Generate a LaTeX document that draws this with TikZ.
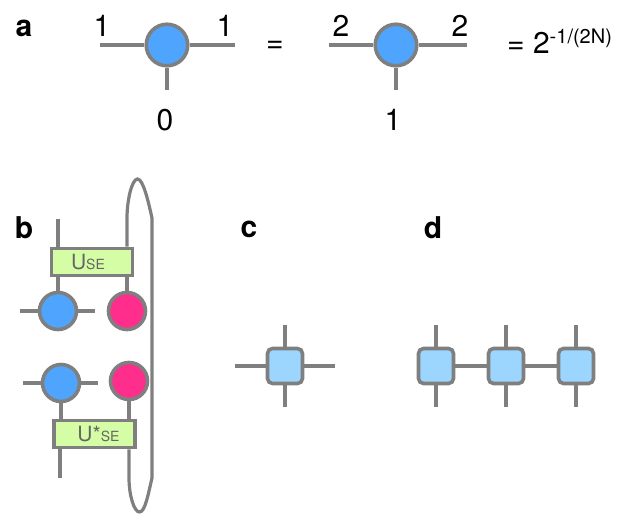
\documentclass[tikz,border=0pt]{standalone}
\usepackage{fontspec}
\setmainfont{TeX Gyre Heros}
\usepackage{tikz}
\usetikzlibrary{positioning}
\definecolor{wiregray}{HTML}{7F7F7F}
\definecolor{siteblue}{HTML}{4FA5FD}
\definecolor{sitepink}{HTML}{FF2D8C}
\definecolor{gatelime}{HTML}{D5FDA5}
\definecolor{tileblue}{HTML}{9CD5FE}
\tikzset{
  wire/.style={draw=wiregray,line width=3.2pt},
  site/.style={circle,draw=wiregray,line width=3.6pt,fill=siteblue,minimum size=41.5pt,inner sep=0pt},
  smallsite/.style={site,minimum size=37pt},
  pinksite/.style={smallsite,fill=sitepink},
  gate/.style={rectangle,draw=wiregray,line width=3.6pt,fill=gatelime,minimum width=81pt,minimum height=27pt,inner sep=0pt,text=wiregray!80!black,font=\fontsize{21}{21}\selectfont},
  tile/.style={rectangle,rounded corners=5pt,draw=wiregray,line width=3.6pt,fill=tileblue,minimum size=35pt,inner sep=0pt},
  lab/.style={inner sep=0pt,font=\fontsize{30}{30}\selectfont},
  panel/.style={inner sep=0pt,font=\fontsize{30}{30}\selectfont\bfseries}
}
\newcommand{\smallse}{{\fontsize{14}{14}\selectfont SE}}
\begin{document}
\begin{tikzpicture}[x=1pt,y=-1pt,node distance=70pt,on grid]
  \useasboundingbox (0,0) rectangle (623,517);
  % panel a
  \node[site] (a1) at (167,45) {};
  \node[site] (a2) at (396,45) {};
  \coordinate (a1l) at (100,45);
  \coordinate (a1r) at (235,45);
  \coordinate (a1b) at (167,90);
  \coordinate (a2l) at (329,45);
  \coordinate (a2r) at (467,45);
  \coordinate (a2b) at (396,90);
  \path[wire]
  (a1) edge (a1l) edge (a1r) edge (a1b)
  (a2) edge (a2l) edge (a2r) edge (a2b);
  \node[panel] (la) at (24,28) {a};
  \node[lab] (n1) at (102,26) {1};
  \node[lab] (n2) at (225,26) {1};
  \node[lab] (n3) at (165,120) {0};
  \node[lab] (n4) at (341,26) {2};
  \node[lab] (n5) at (460,26) {2};
  \node[lab] (n6) at (393,120) {1};
  \node[lab] (eq) at (275,47) {=};
  \node[lab,anchor=west] (val) at (507,41) {= 2\raisebox{10pt}{\fontsize{20}{20}\selectfont -1/(2N)}};
  % panel b
  \node[panel] (lb) at (24,228) {b};
  \node[smallsite] (b1) at (58,311) {};
  \node[pinksite] (p1) [right = 69pt of b1] {};
  \node[smallsite] (b2) at (61,383) {};
  \node[pinksite] (p2) at (129,381) {};
  \node[gate] (u1) at (92,262) {\hspace*{-8pt}U\smallse};
  \node[gate] (u2) at (94.5,434) {\hspace*{8pt}U*\smallse};
  \coordinate (b1l) at (20,311);
  \coordinate (b1r) at (95,311);
  \coordinate (b2l) at (23,383);
  \coordinate (b2r) at (98,383);
  \coordinate (ut) at (58,219);
  \coordinate (db) at (60,478);
  \path[wire]
  (b1) edge (b1l) edge (b1r) edge (b1 |- u1.south)
  (p1) edge (p1 |- u1.south)
  (b2) edge (b2l) edge (b2r) edge (b2 |- u2.north)
  (p2) edge (p2 |- u2.north)
  (ut) edge (ut |- u1.north)
  (db) edge (db |- u2.south);
  \coordinate (lt) at (127,218);
  \coordinate (ltop) at (137.5,179);
  \coordinate (rt) at (152,218);
  \coordinate (rb) at (152,478);
  \coordinate (lbot) at (139.5,512);
  \coordinate (lb2) at (129,478);
  \draw[wire] (p1 |- u1.north) -- (lt) .. controls (127,200) and (132,179) .. (ltop)
    .. controls (143,179) and (148,200) .. (rt) -- (rb)
    .. controls (148,495) and (145,512) .. (lbot)
    .. controls (134,512) and (129,495) .. (lb2) -- (p2 |- u2.south);
  % panel c
  \node[panel] (lc) at (249,229) {c};
  \node[tile] (c1) at (285,366) {};
  \coordinate (c1l) at (235,366);
  \coordinate (c1r) at (335,366);
  \coordinate (c1t) at (285,325);
  \coordinate (c1b) at (285,407);
  \path[wire]
  (c1) edge (c1l) edge (c1r) edge (c1t) edge (c1b);
  % panel d
  \node[panel] (ld) at (433,228) {d};
  \node[tile] (d1) at (436,366) {};
  \node[tile] (d2) [right = of d1] {};
  \node[tile] (d3) [right = of d2] {};
  \foreach \d in {d1,d2,d3} {
    \coordinate (\d t) at ([yshift=-41pt]\d.center);
    \coordinate (\d b) at ([yshift=41pt]\d.center);
    \path[wire] (\d) edge (\d t) edge (\d b);
  }
  \path[wire] (d1) edge (d2) (d2) edge (d3);
\end{tikzpicture}
\end{document}
